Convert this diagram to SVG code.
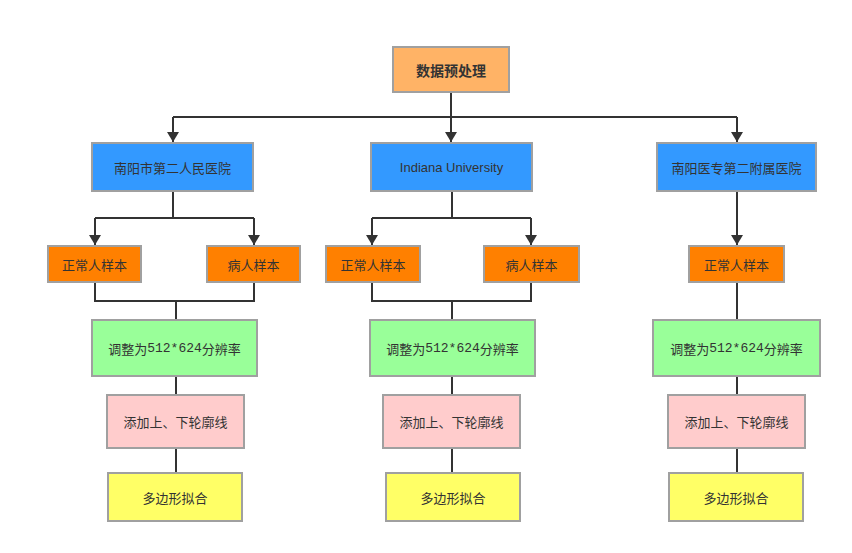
<svg xmlns="http://www.w3.org/2000/svg" width="852" height="553" viewBox="0 0 852 553">
<style>
  .box { stroke: #A0A0A0; stroke-width: 2; }
  .top { fill: #FFB366; }
  .blue { fill: #3399FF; }
  .orange { fill: #FF8000; }
  .green { fill: #99FF99; }
  .pink { fill: #FFCCCC; }
  .yellow { fill: #FFFF66; }
  text { font-family: "Noto Sans CJK SC", "Liberation Sans", sans-serif; font-size: 13px; fill: #333; text-anchor: middle; dominant-baseline: central; }
  .title { font-size: 14px; font-weight: bold; }
  .num { font-family: "Liberation Mono", "Noto Sans CJK SC", monospace; }
  .conn { stroke: #333; stroke-width: 2; fill: none; }
</style>
<defs>
  <marker id="arrow" viewBox="0 0 10 12" refX="10" refY="6" markerWidth="10" markerHeight="12" markerUnits="userSpaceOnUse" orient="auto">
    <path d="M0,0 L10,6 L0,12 z" fill="#333"/>
  </marker>
</defs>
<rect width="852" height="553" fill="#fff"/>
<g id="connectors">
  <path class="conn" d="M451,92 V117"/>
  <path class="conn" d="M173,117 H737"/>
  <path class="conn" d="M173,117 V142" marker-end="url(#arrow)"/>
  <path class="conn" d="M451,117 V142" marker-end="url(#arrow)"/>
  <path class="conn" d="M737,117 V142" marker-end="url(#arrow)"/>
  <!-- left -->
  <path class="conn" d="M173,191 V218 M95,218 H254"/>
  <path class="conn" d="M95,218 V245" marker-end="url(#arrow)"/>
  <path class="conn" d="M254,218 V245" marker-end="url(#arrow)"/>
  <path class="conn" d="M95,282 V301 H254 V282 M176,301 V320 M176,376 V395 M176,448 V473"/>
  <!-- middle -->
  <path class="conn" d="M452,191 V218 M372,218 H531"/>
  <path class="conn" d="M372,218 V245" marker-end="url(#arrow)"/>
  <path class="conn" d="M531,218 V245" marker-end="url(#arrow)"/>
  <path class="conn" d="M372,282 V301 H531 V282 M452,301 V320 M452,376 V395 M452,448 V473"/>
  <!-- right -->
  <path class="conn" d="M737,191 V245" marker-end="url(#arrow)"/>
  <path class="conn" d="M737,282 V320 M737,376 V395 M737,448 V473"/>
</g>
<g id="root"><rect class="box top" x="393" y="47" width="116" height="45"/><text class="title" x="451" y="70">数据预处理</text></g>

<g id="h1"><rect class="box blue" x="92" y="143" width="161" height="48"/><text x="172.5" y="167">南阳市第二人民医院</text></g>
<g id="h2"><rect class="box blue" x="371" y="143" width="161" height="48"/><text x="451.5" y="167" style="font-family:'Liberation Sans',sans-serif">Indiana University</text></g>
<g id="h3"><rect class="box blue" x="657" y="143" width="159" height="48"/><text x="736.5" y="167">南阳医专第二附属医院</text></g>

<g id="n1"><rect class="box orange" x="48" y="246" width="93" height="36"/><text x="94.5" y="264">正常人样本</text></g>
<g id="p1"><rect class="box orange" x="207" y="246" width="93" height="36"/><text x="253.5" y="264">病人样本</text></g>
<g id="n2"><rect class="box orange" x="326" y="246" width="94" height="36"/><text x="373" y="264">正常人样本</text></g>
<g id="p2"><rect class="box orange" x="484" y="246" width="95" height="36"/><text x="531.5" y="264">病人样本</text></g>
<g id="n3"><rect class="box orange" x="689" y="246" width="95" height="36"/><text x="736.5" y="264">正常人样本</text></g>

<g id="r1"><rect class="box green" x="92" y="320" width="165" height="56"/><text x="174.5" y="348">调整为<tspan class="num">512*624</tspan>分辨率</text></g>
<g id="r2"><rect class="box green" x="370" y="320" width="165" height="56"/><text x="452.5" y="348">调整为<tspan class="num">512*624</tspan>分辨率</text></g>
<g id="r3"><rect class="box green" x="653" y="320" width="167" height="56"/><text x="736.5" y="348">调整为<tspan class="num">512*624</tspan>分辨率</text></g>

<g id="c1"><rect class="box pink" x="107" y="395" width="137" height="53"/><text x="175.5" y="421.5">添加上、下轮廓线</text></g>
<g id="c2"><rect class="box pink" x="383" y="395" width="137" height="53"/><text x="451.5" y="421.5">添加上、下轮廓线</text></g>
<g id="c3"><rect class="box pink" x="668" y="395" width="137" height="53"/><text x="736.5" y="421.5">添加上、下轮廓线</text></g>

<g id="f1"><rect class="box yellow" x="108" y="473" width="134" height="48"/><text x="175" y="497">多边形拟合</text></g>
<g id="f2"><rect class="box yellow" x="386" y="473" width="134" height="48"/><text x="453" y="497">多边形拟合</text></g>
<g id="f3"><rect class="box yellow" x="669" y="473" width="134" height="48"/><text x="736" y="497">多边形拟合</text></g>
</svg>
